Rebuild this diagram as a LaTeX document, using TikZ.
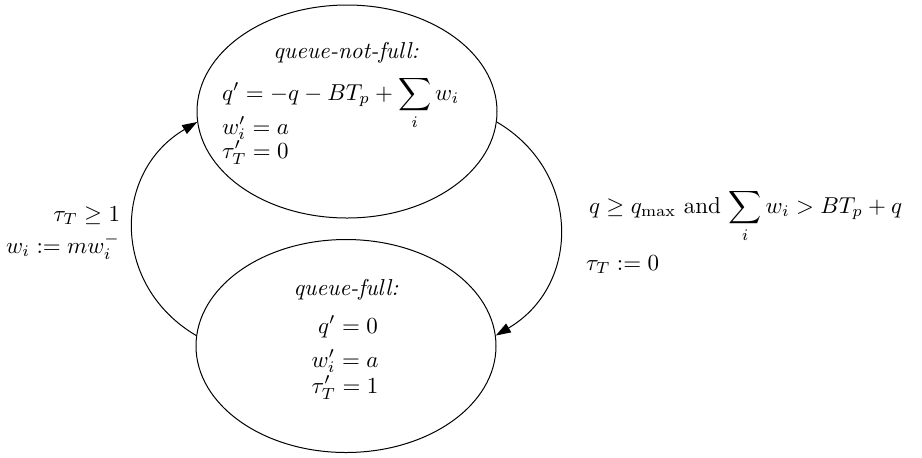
\documentclass[tikz,border=0pt]{standalone}
\usepackage{amsmath}
\usetikzlibrary{shapes.geometric,arrows.meta}
\begin{document}
\begin{tikzpicture}[x=0.5pt,y=-0.5pt,
  state/.style={draw,ellipse,line width=0.5pt,minimum width=150pt,minimum height=106.5pt,inner sep=0pt},
  txt/.style={inner sep=0pt,outer sep=0pt,scale=1.15},
  arr/.style={line width=0.5pt,-{Triangle[length=7.5pt,width=5pt]}}]
\useasboundingbox (0,0) rectangle (922,457);
% states
\node[state] (top) at (347,111.5) {};
\node[state] (bot) at (346,346) {};
% top contents
\node[txt,anchor=base] (t1) at (346,58) {\textit{queue-not-full:}};
\node[txt,anchor=base west] (t2) at (222,100) {$q' = -q - BT_p + \displaystyle\sum_i w_i$};
\node[txt,anchor=base west] (t3) at (222,134) {$w_i' = a$};
\node[txt,anchor=base west] (t4) at (222,158) {$\tau_T' = 0$};
% bottom contents
\node[txt,anchor=base] (b1) at (346,295) {\textit{queue-full:}};
\node[txt,anchor=base] (b2) at (348,333) {$q' = 0$};
\node[txt,anchor=base] (b3) at (345,367) {$w_i' = a$};
\node[txt,anchor=base] (b4) at (345,393) {$\tau_T' = 1$};
% transitions
\draw[arr] (bot.176) .. controls +(-85,-50) and +(-85,50) .. (top.184);
\draw[arr] (top.356) .. controls +(85,50) and +(85,-50) .. (bot.4);
% labels
\node[txt,anchor=base east] (l1) at (120,221) {$\tau_T \geq 1$};
\node[txt,anchor=base east] (l2) at (120,253) {$w_i := m w_i^-$};
\node[txt,anchor=base west] (r1) at (589,213) {$q \geq q_{\max}$ and $\displaystyle\sum_i w_i > BT_p + q$};
\node[txt,anchor=base west] (r2) at (586,270) {$\tau_T := 0$};
\end{tikzpicture}
\end{document}
